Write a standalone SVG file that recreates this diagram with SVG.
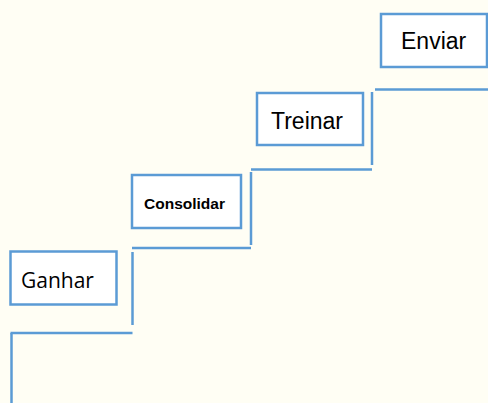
<svg xmlns="http://www.w3.org/2000/svg" width="488" height="403" viewBox="0 0 488 403">
<style>
.bg{fill:#FFFEF4}
.box{fill:#FFFFFF;stroke:#5B9BD5;stroke-width:2.5}
.step{fill:none;stroke:#5B9BD5;stroke-width:2.5}
.t{font-family:"Liberation Sans",Arial,sans-serif;font-size:23px;fill:#000}
.g{font-family:"Open Sans","Noto Sans",sans-serif;font-size:21px;fill:#000}
.c{font-family:"Liberation Sans",Arial,sans-serif;font-size:15.5px;font-weight:bold;fill:#000}
</style>
<rect class="bg" x="0" y="0" width="488" height="403"/>
<g id="connectors">
<line class="step" x1="11.5" y1="403" x2="11.5" y2="333"/>
<line class="step" x1="10.5" y1="333" x2="132.5" y2="333"/>
<line class="step" x1="132.5" y1="325" x2="132.5" y2="252"/>
<line class="step" x1="132" y1="248" x2="251" y2="248"/>
<line class="step" x1="251" y1="245" x2="251" y2="172"/>
<line class="step" x1="251" y1="169.5" x2="372" y2="169.5"/>
<line class="step" x1="372" y1="165" x2="372" y2="92"/>
<line class="step" x1="375" y1="89.5" x2="488" y2="89.5"/>
</g>
<g id="ganhar">
<rect class="box" x="10.5" y="251.5" width="106" height="53"/>
<text class="g" x="21" y="287.5">Ganhar</text>
</g>
<g id="consolidar">
<rect class="box" x="132" y="175" width="109" height="53"/>
<text class="c" x="144" y="209">Consolidar</text>
</g>
<g id="treinar">
<rect class="box" x="257" y="93" width="106" height="52"/>
<text class="t" x="271" y="129">Treinar</text>
</g>
<g id="enviar">
<rect class="box" x="381" y="14" width="106" height="53"/>
<text class="t" x="401" y="49">Enviar</text>
</g>
</svg>
